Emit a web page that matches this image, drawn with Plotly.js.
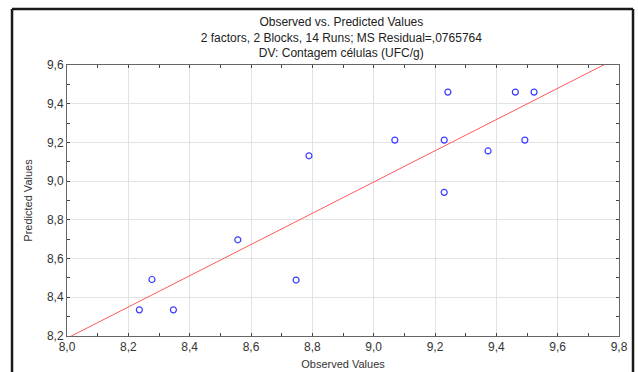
<!DOCTYPE html>
<html>
<head>
<meta charset="utf-8">
<script src="https://cdn.plot.ly/plotly-3.0.1.min.js"></script>
<style>
html,body{margin:0;padding:0;background:#fff;}
#chart{width:638px;height:372px;}
</style>
</head>
<body>
<div id="chart"></div>
<script>
// Observed vs predicted values
const observed  = [8.277, 8.236, 8.347, 8.557, 8.747, 8.789, 9.069, 9.242, 9.462, 9.523, 9.230, 9.493, 9.373, 9.230];
const predicted = [8.492, 8.335, 8.335, 8.697, 8.489, 9.131, 9.212, 9.460, 9.460, 9.460, 9.212, 9.212, 9.156, 8.942];
const lineX = [8.0, 9.8];
const xTicks = [8.0, 8.2, 8.4, 8.6, 8.8, 9.0, 9.2, 9.4, 9.6, 9.8];
const yTicks = [8.2, 8.4, 8.6, 8.8, 9.0, 9.2, 9.4, 9.6];
const titleLines = ["Observed vs. Predicted Values", "2 factors, 2 Blocks, 14 Runs; MS Residual=,0765764", "DV: Contagem células (UFC/g)"];

// least-squares fit of predicted on observed
const n = observed.length;
const mx = observed.reduce((a,b)=>a+b,0)/n;
const my = predicted.reduce((a,b)=>a+b,0)/n;
let sxy=0, sxx=0;
for (let i=0;i<n;i++){ sxy += (observed[i]-mx)*(predicted[i]-my); sxx += (observed[i]-mx)**2; }
const slope = sxy/sxx, icpt = my - slope*mx;
const lineY = lineX.map(x => icpt + slope*x);

const font = "Liberation Sans, Arial, sans-serif";
const traces = [
  {x: lineX, y: lineY, mode: 'lines', line: {color: '#ff5a5a', width: 1}, hoverinfo: 'skip', showlegend: false},
  {x: observed, y: predicted, mode: 'markers', showlegend: false,
   marker: {symbol: 'circle-open', size: 6, color: '#3b3bff', line: {width: 1.2, color: '#3b3bff'}}}
];

const axCommon = {
  showline: true, linecolor: '#666', linewidth: 1, mirror: 'ticks',
  showgrid: true, gridcolor: '#e2e2e2', gridwidth: 1,
  ticks: 'inside', ticklen: 3, tickcolor: '#444', tickwidth: 1,
  zeroline: false, tickformat: '.1f',
  tickfont: {family: font, size: 12, color: '#333'},
  minor: {dtick: 0.1, ticks: 'inside', ticklen: 3, tickcolor: '#444', showgrid: false}
};

const layout = {
  width: 638, height: 372,
  margin: {l: 67, r: 19, t: 65, b: 36},
  paper_bgcolor: '#fff', plot_bgcolor: '#fff',
  separators: ',.',
  font: {family: font, color: '#333'},
  title: {text: titleLines.join('<br>'), font: {family: font, size: 12, color: '#222'},
          x: 0.535, xanchor: 'center', y: 0.93, yanchor: 'top', yref: 'container'},
  xaxis: Object.assign({}, axCommon, {range: [8.0, 9.8], tickvals: xTicks,
    title: {text: 'Observed Values', font: {family: font, size: 11, color: '#333'}, standoff: 6}}),
  yaxis: Object.assign({}, axCommon, {range: [8.2, 9.6], tickvals: yTicks,
    title: {text: 'Predicted Values', font: {family: font, size: 11, color: '#333'}, standoff: 12}}),
  shapes: [
    {type: 'line', xref: 'paper', yref: 'paper', x0: -0.0996, x1: -0.0996, y0: 1.2066, y1: -0.2, line: {color: '#1a1a1a', width: 2.5}},
    {type: 'line', xref: 'paper', yref: 'paper', x0: -0.0996, x1: 1.0254, y0: 1.2066, y1: 1.2066, line: {color: '#1a1a1a', width: 2.5}},
    {type: 'line', xref: 'paper', yref: 'paper', x0: 1.0254, x1: 1.0254, y0: 1.2066, y1: -0.2, line: {color: '#1a1a1a', width: 2.5}}
  ]
};

Plotly.newPlot('chart', traces, layout, {displayModeBar: false, staticPlot: true});
</script>
</body>
</html>
